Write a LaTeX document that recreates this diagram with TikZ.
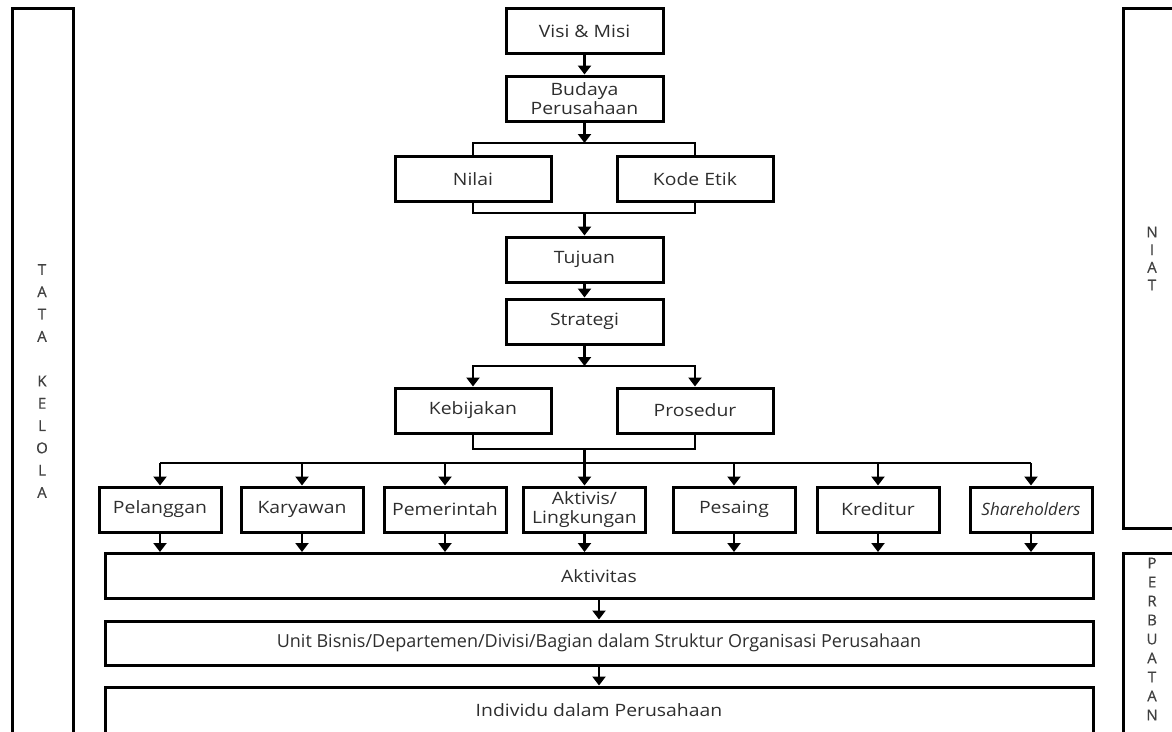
\documentclass[tikz,border=0pt]{standalone}
\usepackage{fontspec}
\setmainfont{Open Sans}
\newfontfamily\widefont{Open Sans}[FakeStretch=1.14]
\newfontfamily\letterfont{Open Sans}[FakeBold=0.6]
\usetikzlibrary{arrows.meta}
\begin{document}
\begin{tikzpicture}[x=1pt,y=-1pt,
  box/.style={draw, line width=3pt, minimum width=157pt, minimum height=45pt, inner sep=1pt,
    align=center, text=black!82, font=\widefont\fontsize{17}{19.5}\selectfont},
  sbox/.style={box, minimum width=122pt},
  wide/.style={box, minimum width=988pt},
  bar/.style={draw, line width=3pt, minimum width=61pt, inner sep=0pt},
  letters/.style={align=center, text=black!75, inner sep=0pt},
  conn/.style={line width=2.5pt},
  arr/.style={conn, -{Triangle[width=13pt,length=9pt]}}
]
\useasboundingbox (0,0) rectangle (1172,731);

% side bars
\node[bar, minimum height=740pt] (tata) at (42.5,378) {};
\node[bar, minimum height=520pt] (niat) at (1153.5,268) {};
\node[bar, minimum height=195pt] (perb) at (1153.5,650.5) {};
\node[letters, font=\letterfont\fontsize{15}{22.3}\selectfont] (tatatext) at (42,381) {T\\A\\T\\A\\\mbox{}\\K\\E\\L\\O\\L\\A};
\node[letters, font=\letterfont\fontsize{15}{17.7}\selectfont] (niattext) at (1152,258.5) {N\\I\\A\\T};
\node[letters, font=\letterfont\fontsize{15}{19}\selectfont] (perbtext) at (1152,639) {P\\E\\R\\B\\U\\A\\T\\A\\N};

% main chain
\node[box] (visi) at (584.5,31) {Visi \& Misi};
\node[box] (budaya) at (584.5,98.5) {Budaya\\Perusahaan};
\node[box, minimum width=156pt] (nilai) at (473,179) {Nilai};
\node[box, minimum width=156pt] (kode) at (695,179) {Kode Etik};
\node[box] (tujuan) at (584.5,259.5) {Tujuan};
\node[box] (strategi) at (584.5,321.5) {Strategi};
\node[box, minimum width=156pt] (kebijakan) at (473,410.5) {Kebijakan};
\node[box, minimum width=156pt] (prosedur) at (695,410.5) {Prosedur};

% stakeholders
\node[sbox] (pel) at (160,509.5) {Pelanggan};
\node[sbox] (kar) at (302,509.5) {Karyawan};
\node[sbox] (pem) at (445,509.5) {Pemerintah};
\node[sbox] (akt) at (584.5,509.5) {Aktivis/\\Lingkungan};
\node[sbox] (pes) at (734,509.5) {Pesaing};
\node[sbox] (kre) at (878,509.5) {Kreditur};
\node[sbox, font=\fontsize{17}{19.5}\selectfont] (sha) at (1031,509.5) {\itshape Shareholders};

% bottom
\node[wide] (aktivitas) at (599,576) {Aktivitas};
\node[wide, minimum height=44pt, font=\fontsize{18}{19.5}\selectfont] (unit) at (599,643) {Unit Bisnis/Departemen/Divisi/Bagian dalam Struktur Organisasi Perusahaan};
\node[wide, minimum height=46pt] (indiv) at (599,710) {Individu dalam Perusahaan};

% coordinates
\coordinate (b1) at (584.5,143);
\coordinate (m1) at (584.5,213);
\coordinate (b2) at (584.5,366);
\coordinate (m2) at (584.5,449);
\coordinate (bus) at (584.5,463);

% connectors
\draw[arr] (visi) -- (budaya);
\draw[arr] (budaya) -- (b1);
\draw[conn] (nilai.north) |- (b1) -| (kode.north);
\draw[conn] (nilai.south) |- (m1) -| (kode.south);
\draw[arr] (m1) -- (tujuan);
\draw[arr] (tujuan) -- (strategi);
\draw[arr] (strategi) -- (b2);
\draw[arr] (b2) -| (kebijakan.north);
\draw[arr] (b2) -| (prosedur.north);
\draw[conn] (kebijakan.south) |- (m2) -| (prosedur.south);
\draw[arr] (m2) -- (akt.north);
\draw[conn] (pel.north |- bus) -- (sha.north |- bus);
\foreach \n in {pel,kar,pem,pes,kre,sha}{
  \draw[arr] (\n.north |- bus) -- (\n.north);
}
\foreach \n in {pel,kar,pem,akt,pes,kre,sha}{
  \draw[arr] (\n.south) -- (\n.south |- aktivitas.north);
}
\draw[arr] (aktivitas) -- (unit);
\draw[arr] (unit) -- (indiv);
\end{tikzpicture}
\end{document}
